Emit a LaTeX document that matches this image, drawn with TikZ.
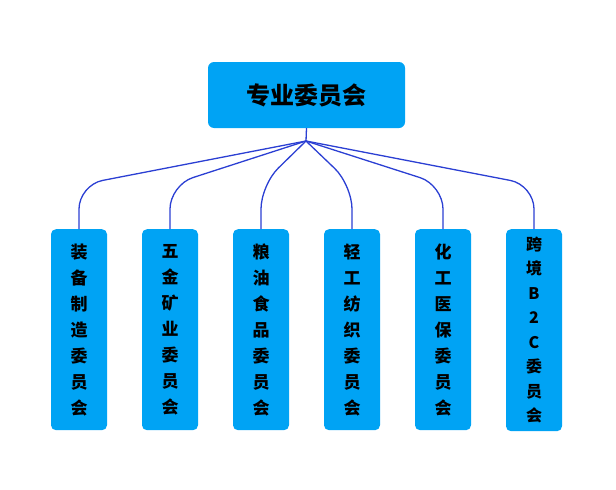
\documentclass[tikz,border=0pt]{standalone}
\usepackage{fontspec}
\newfontfamily\cjk{Noto Sans CJK SC}
\definecolor{boxc}{HTML}{00A3F4}
\definecolor{linec}{HTML}{2B3FD3}
\begin{document}
\begin{tikzpicture}[x=1pt,y=-1pt,
  rootbox/.style={fill=boxc,rounded corners=6pt,minimum width=197pt,minimum height=66pt,font=\cjk\bfseries\fontsize{24}{28}\selectfont},
  childbox/.style={fill=boxc,rounded corners=5pt,minimum width=56pt,minimum height=201pt,font=\cjk\bfseries\fontsize{17}{26}\selectfont,align=center,anchor=north},
  conn/.style={draw=linec,line width=1.3pt,rounded corners=24pt}]
\useasboundingbox (0,0) rectangle (616,490);
\node[rootbox] (root) at (306.5,95) {专业委员会};
\coordinate (j) at (306,141);
\node[childbox] (c1) at (79,229) {装\\备\\制\\造\\委\\员\\会};
\node[childbox] (c2) at (170,229) {五\\金\\矿\\业\\委\\员\\会};
\node[childbox] (c3) at (261,229) {粮\\油\\食\\品\\委\\员\\会};
\node[childbox] (c4) at (352,229) {轻\\工\\纺\\织\\委\\员\\会};
\node[childbox] (c5) at (443,229) {化\\工\\医\\保\\委\\员\\会};
\node[childbox,minimum height=202pt,font=\cjk\bfseries\fontsize{16}{24.5}\selectfont] (c6) at (534,229) {跨\\境\\B\\2\\C\\委\\员\\会};
\draw[conn] (root.south) -- (j);
\foreach \c/\x in {c1/79,c2/170,c3/261,c4/352,c5/443,c6/534}
  \draw[conn] (j) -- (\x,185) -- (\c.north);
\end{tikzpicture}
\end{document}
